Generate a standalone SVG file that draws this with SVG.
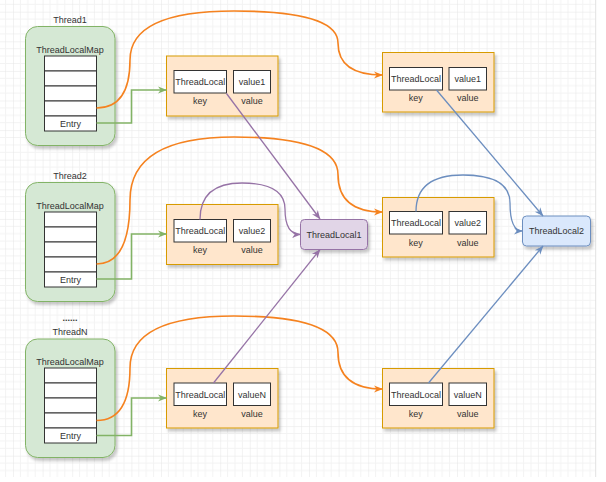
<svg xmlns="http://www.w3.org/2000/svg" width="606" height="482" viewBox="0 0 606 482">
<defs>
<pattern id="grid" width="29.6" height="29.6" patternUnits="userSpaceOnUse" x="13" y="11.7">
<path d="M7.4,0V29.6M14.8,0V29.6M22.2,0V29.6M0,7.4H29.6M0,14.8H29.6M0,22.2H29.6" stroke="#f3f3f3" stroke-width="1" fill="none"/>
<path d="M0,0V29.6M0,0H29.6" stroke="#e6e6e6" stroke-width="1" fill="none"/>
</pattern>
<filter id="sh" x="-20%" y="-20%" width="140%" height="150%">
<feDropShadow dx="2" dy="3" stdDeviation="1.4" flood-color="#000" flood-opacity="0.22"/>
</filter>
<marker id="aO" viewBox="0 0 10 10" refX="9.5" refY="5" markerWidth="9" markerHeight="9" markerUnits="userSpaceOnUse" orient="auto"><path d="M0,1 L10,5 L0,9 L3,5 Z" fill="#f5821f"/></marker>
<marker id="aG" viewBox="0 0 10 10" refX="9.5" refY="5" markerWidth="9" markerHeight="9" markerUnits="userSpaceOnUse" orient="auto"><path d="M0,1 L10,5 L0,9 L3,5 Z" fill="#82b366"/></marker>
<marker id="aP" viewBox="0 0 10 10" refX="9.5" refY="5" markerWidth="9" markerHeight="9" markerUnits="userSpaceOnUse" orient="auto"><path d="M0,1 L10,5 L0,9 L3,5 Z" fill="#9673a6"/></marker>
<marker id="aB" viewBox="0 0 10 10" refX="9.5" refY="5" markerWidth="9" markerHeight="9" markerUnits="userSpaceOnUse" orient="auto"><path d="M0,1 L10,5 L0,9 L3,5 Z" fill="#6c8ebf"/></marker>
</defs>
<style>
text{font-family:"Liberation Sans",Arial,sans-serif;font-size:9px;fill:#333;text-anchor:middle}
.thr{fill:#d5e8d4;stroke:#82b366;stroke-width:1}
.row{fill:#fff;stroke:#333;stroke-width:1}
.kv{fill:#ffe6cc;stroke:#d79b00;stroke-width:1}
.in{fill:#fff;stroke:#333;stroke-width:1}
.tl1{fill:#e1d5e7;stroke:#9673a6;stroke-width:1}
.tl2{fill:#dae8fc;stroke:#6c8ebf;stroke-width:1}
.o{fill:none;stroke:#f5821f;stroke-width:1.6;marker-end:url(#aO)}
.g{fill:none;stroke:#82b366;stroke-width:1.6;marker-end:url(#aG)}
.p{fill:none;stroke:#9673a6;stroke-width:1.3;marker-end:url(#aP)}
.b{fill:none;stroke:#6c8ebf;stroke-width:1.3;marker-end:url(#aB)}
</style>
<rect x="0" y="0" width="606" height="482" fill="#fff"/>
<rect x="0" y="0" width="596" height="477" fill="url(#grid)"/>
<line x1="595.7" y1="0" x2="595.7" y2="477" stroke="#e2e2e2" stroke-width="1"/>

<g id="thread1">
<text x="70" y="22.5">Thread1</text>
<rect class="thr" x="25.5" y="26.5" width="89.5" height="119" rx="12" filter="url(#sh)"/>
<text x="70" y="52.5">ThreadLocalMap</text>
<rect class="row" x="44.5" y="56" width="52" height="15"/>
<rect class="row" x="44.5" y="71" width="52" height="15"/>
<rect class="row" x="44.5" y="86" width="52" height="15"/>
<rect class="row" x="44.5" y="101" width="52" height="15"/>
<rect class="row" x="44.5" y="116" width="52" height="15"/>
<text x="70.5" y="126.5">Entry</text>
</g>

<g id="thread2">
<text x="70" y="178.5">Thread2</text>
<rect class="thr" x="25.5" y="182.5" width="89.5" height="119" rx="12" filter="url(#sh)"/>
<text x="70" y="208.5">ThreadLocalMap</text>
<rect class="row" x="44.5" y="212" width="52" height="15"/>
<rect class="row" x="44.5" y="227" width="52" height="15"/>
<rect class="row" x="44.5" y="242" width="52" height="15"/>
<rect class="row" x="44.5" y="257" width="52" height="15"/>
<rect class="row" x="44.5" y="272" width="52" height="15"/>
<text x="70.5" y="282.5">Entry</text>
</g>

<g id="threadN">
<text x="70" y="321" font-weight="bold">......</text>
<text x="70" y="335">ThreadN</text>
<rect class="thr" x="25.5" y="339" width="89.5" height="118.5" rx="12" filter="url(#sh)"/>
<text x="70" y="365">ThreadLocalMap</text>
<rect class="row" x="44.5" y="368" width="52" height="15"/>
<rect class="row" x="44.5" y="383" width="52" height="15"/>
<rect class="row" x="44.5" y="398" width="52" height="15"/>
<rect class="row" x="44.5" y="413" width="52" height="15"/>
<rect class="row" x="44.5" y="428" width="52" height="15"/>
<text x="70.5" y="438.5">Entry</text>
</g>

<g id="entry1">
<rect class="kv" x="166.5" y="56" width="111.5" height="60" filter="url(#sh)"/>
<rect class="in" x="174" y="70.5" width="52.5" height="22.5"/>
<rect class="in" x="233.5" y="70.5" width="37" height="22.5"/>
<text x="200.3" y="85">ThreadLocal</text>
<text x="252" y="85">value1</text>
<text x="200" y="104">key</text>
<text x="252" y="104">value</text>
</g>

<g id="entry2">
<rect class="kv" x="166.5" y="204.5" width="111.5" height="60" filter="url(#sh)"/>
<rect class="in" x="174" y="219.5" width="52.5" height="22.5"/>
<rect class="in" x="233.5" y="219.5" width="37" height="22.5"/>
<text x="200.3" y="234">ThreadLocal</text>
<text x="252" y="234">value2</text>
<text x="200" y="253">key</text>
<text x="252" y="253">value</text>
</g>

<g id="entryN">
<rect class="kv" x="166.5" y="368.5" width="111.5" height="59.5" filter="url(#sh)"/>
<rect class="in" x="174" y="383" width="52.5" height="22.5"/>
<rect class="in" x="233.5" y="383" width="37" height="22.5"/>
<text x="200.3" y="397.5">ThreadLocal</text>
<text x="252" y="397.5">valueN</text>
<text x="200" y="416.5">key</text>
<text x="252" y="416.5">value</text>
</g>

<g id="entry1b">
<rect class="kv" x="382.5" y="52.5" width="111.5" height="59.5" filter="url(#sh)"/>
<rect class="in" x="389.5" y="67.5" width="53" height="22.5"/>
<rect class="in" x="449" y="67.5" width="37.5" height="22.5"/>
<text x="416" y="82">ThreadLocal</text>
<text x="467.7" y="82">value1</text>
<text x="415.7" y="100.5">key</text>
<text x="467.7" y="100.5">value</text>
</g>

<g id="entry2b">
<rect class="kv" x="382.5" y="197.5" width="111.5" height="59.5" filter="url(#sh)"/>
<rect class="in" x="389.5" y="211.5" width="53" height="22.5"/>
<rect class="in" x="449" y="211.5" width="37.5" height="22.5"/>
<text x="416" y="226">ThreadLocal</text>
<text x="467.7" y="226">value2</text>
<text x="415.7" y="245.5">key</text>
<text x="467.7" y="245.5">value</text>
</g>

<g id="entryNb">
<rect class="kv" x="382.5" y="368.5" width="111.5" height="59.5" filter="url(#sh)"/>
<rect class="in" x="389.5" y="383" width="53" height="22.5"/>
<rect class="in" x="449" y="383" width="37.5" height="22.5"/>
<text x="416" y="397.5">ThreadLocal</text>
<text x="467.7" y="397.5">valueN</text>
<text x="415.7" y="416.5">key</text>
<text x="467.7" y="416.5">value</text>
</g>

<g id="threadLocal1">
<rect class="tl1" x="300.5" y="219.5" width="67" height="30" rx="4" filter="url(#sh)"/>
<text x="334" y="237.5">ThreadLocal1</text>
</g>

<g id="threadLocal2">
<rect class="tl2" x="522.5" y="216" width="68" height="30" rx="4" filter="url(#sh)"/>
<text x="556.5" y="234">ThreadLocal2</text>
</g>

<g id="connectors">
<path class="o" d="M96.5,108 Q130,108 130,60 Q130,11 234,11 Q338,11 338,43 Q338,75 382.5,75"/>
<path class="o" d="M96.5,264 Q130,264 130,200 Q130,137 234,137 Q338,137 338,174.5 Q338,212 382.5,212"/>
<path class="o" d="M96.5,420.5 Q130,420.5 130,368 Q130,316 234,316 Q338,316 338,352.5 Q338,389 382.5,389"/>
<path class="g" d="M96.5,123 H131.5 V90 H166.5"/>
<path class="g" d="M96.5,279 H131.5 V234 H166.5"/>
<path class="g" d="M96.5,435.5 H131.5 V398 H166.5"/>
<path class="p" d="M226.5,93.5 L320,219"/>
<path class="p" d="M200,219.5 Q200,183 242,183 Q285,183 285,209 Q285,234.5 300.5,234.5"/>
<path class="p" d="M213.5,383 L320,249.5"/>
<path class="b" d="M436.5,90 L543,216"/>
<path class="b" d="M416,211.5 Q416,175 463,175 Q510,175 510,203 Q510,231 522.5,231"/>
<path class="b" d="M428.5,383 L543,246"/>
</g>
</svg>
